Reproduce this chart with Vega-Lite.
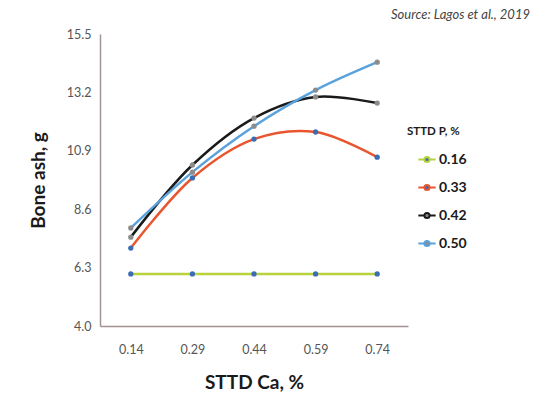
{
  "$schema": "https://vega.github.io/schema/vega-lite/v6.json",
  "width": 308,
  "height": 292,
  "autosize": {"type": "none"},
  "padding": {"left": 100, "top": 34, "right": 136, "bottom": 75},
  "background": "white",
  "config": {
    "view": {"stroke": null},
    "font": "Lato"
  },
  "title": {
    "text": "Source: Lagos et al., 2019",
    "anchor": "end",
    "frame": "group",
    "fontStyle": "italic",
    "fontWeight": "normal",
    "fontSize": 13,
    "font": "Lato",
    "color": "#444444",
    "dx": 122,
    "offset": 6
  },
  "data": {
    "values": [
      {"ca": "0.14", "p": "0.16", "ash": 6.05},
      {"ca": "0.29", "p": "0.16", "ash": 6.05},
      {"ca": "0.44", "p": "0.16", "ash": 6.05},
      {"ca": "0.59", "p": "0.16", "ash": 6.05},
      {"ca": "0.74", "p": "0.16", "ash": 6.05},
      {"ca": "0.14", "p": "0.33", "ash": 7.07},
      {"ca": "0.29", "p": "0.33", "ash": 9.83},
      {"ca": "0.44", "p": "0.33", "ash": 11.36},
      {"ca": "0.59", "p": "0.33", "ash": 11.64},
      {"ca": "0.74", "p": "0.33", "ash": 10.65},
      {"ca": "0.14", "p": "0.42", "ash": 7.5},
      {"ca": "0.29", "p": "0.42", "ash": 10.34},
      {"ca": "0.44", "p": "0.42", "ash": 12.19},
      {"ca": "0.59", "p": "0.42", "ash": 13.02},
      {"ca": "0.74", "p": "0.42", "ash": 12.78},
      {"ca": "0.14", "p": "0.50", "ash": 7.86},
      {"ca": "0.29", "p": "0.50", "ash": 10.06},
      {"ca": "0.44", "p": "0.50", "ash": 11.87},
      {"ca": "0.59", "p": "0.50", "ash": 13.29},
      {"ca": "0.74", "p": "0.50", "ash": 14.39}
    ]
  },
  "encoding": {
    "x": {
      "field": "ca",
      "type": "ordinal",
      "scale": {"type": "point", "padding": 0.5},
      "axis": {
        "title": "STTD Ca, %",
        "titleFontSize": 19,
        "titleFontWeight": "bold",
        "titleColor": "#1a1a1a",
        "titlePadding": 18,
        "labelAngle": 0,
        "labelFontSize": 12.5,
        "labelColor": "#555555",
        "labelPadding": 17,
        "ticks": false,
        "grid": false,
        "domainColor": "#a39494",
        "domainWidth": 1.5
      }
    },
    "y": {
      "field": "ash",
      "type": "quantitative",
      "scale": {"domain": [4, 15.5], "nice": false, "zero": false},
      "axis": {
        "title": "Bone ash, g",
        "titleFontSize": 19,
        "titleFontWeight": "bold",
        "titleColor": "#1a1a1a",
        "titlePadding": 18,
        "values": [4, 6.3, 8.6, 10.9, 13.2, 15.5],
        "format": ".1f",
        "labelFontSize": 12.5,
        "labelColor": "#555555",
        "labelPadding": 9,
        "ticks": false,
        "grid": false,
        "domainColor": "#a39494",
        "domainWidth": 1.5
      }
    }
  },
  "layer": [
    {
      "mark": {"type": "line", "interpolate": "catmull-rom", "strokeWidth": 2.5},
      "encoding": {
        "stroke": {
          "field": "p",
          "type": "nominal",
          "scale": {
            "domain": ["0.16", "0.33", "0.42", "0.50"],
            "range": ["#b8d23c", "#e8552e", "#1a1a1a", "#5aa2dc"]
          },
          "legend": {
            "title": "STTD P, %",
            "orient": "none",
            "legendX": 307,
            "legendY": 92,
            "titleFontSize": 11.5,
            "titleFontWeight": "bold",
            "titleColor": "#1a1a1a",
            "titlePadding": 12,
            "labelFontSize": 14,
            "labelFontWeight": "bold",
            "labelColor": "#1a1a1a",
            "labelOffset": 2,
            "symbolType": "M-1,0H-0.3M0.3,0H1M-0.3,0a0.3,0.3 0 1,0 0.6,0a0.3,0.3 0 1,0 -0.6,0",
            "symbolSize": 300,
            "symbolStrokeWidth": 2,
            "symbolOffset": 10,
            "rowPadding": 11,
            "padding": 0,
            "offset": 0
          }
        }
      }
    },
    {
      "mark": {"type": "point", "filled": true, "size": 28, "opacity": 1},
      "encoding": {
        "fill": {
          "field": "p",
          "type": "nominal",
          "scale": {
            "domain": ["0.16", "0.33", "0.42", "0.50"],
            "range": ["#3b6db3", "#3b6db3", "#8c8c8c", "#8c8c8c"]
          },
          "legend": {"title": "STTD P, %"}
        }
      }
    }
  ]
}
